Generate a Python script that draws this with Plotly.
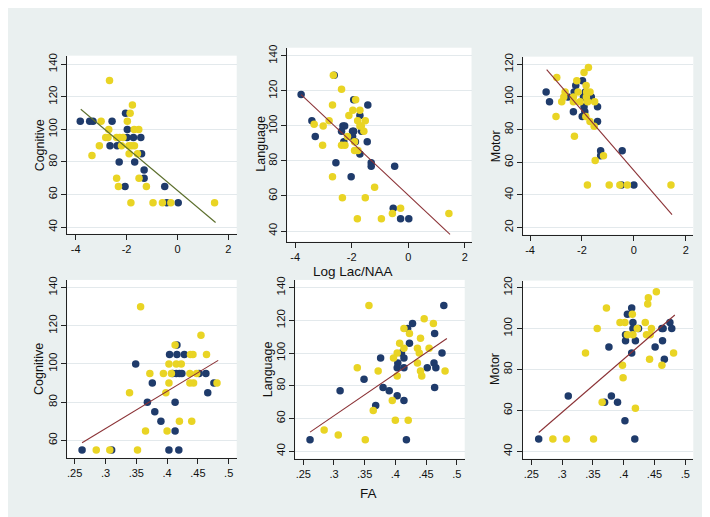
import plotly.graph_objects as go

# ---------------- data ----------------
# Panel 1: Cognitive vs Log Lac/NAA
p1_navy_x = [-3.82,-3.45,-3.32,-2.57,-2.65,-2.37,-2.29,-2.06,-2.04,-1.97,-1.98,-1.73,-1.44,-1.41,-1.68,-1.31,-1.31,-0.50,-0.42,0.03]
p1_navy_y = [105,105,105,105,90,90,80,65,110,100,95,95,95,85,80,75,70,65,55,55]
p1_gold_x = [-2.67,-1.77,-1.86,-1.97,-3.0,-2.70,-1.70,-1.52,-2.82,-2.73,-2.39,-2.27,-2.14,-3.07,-2.20,-1.91,-1.81,-1.69,-3.36,-1.90,-1.57,-2.39,-1.51,-2.32,-1.22,-1.83,-0.96,-0.59,-0.26,1.46]
p1_gold_y = [130,115,110,105,105,100,100,100,95,95,95,95,95,90,90,90,90,90,84,85,85,70,70,65,65,55,55,55,55,55]
p1_fit_x = [-3.80, 1.50]
p1_fit_y = [112.4, 42.8]

# Panel 2: Language vs Log Lac/NAA
p2_navy_x = [-3.79,-3.41,-3.29,-2.62,-2.56,-2.31,-2.25,-2.36,-2.28,-2.02,-1.97,-1.93,-1.93,-1.97,-1.87,-1.71,-1.65,-1.71,-1.43,-1.45,-1.31,-1.31,-0.48,-0.53,-0.27,0.02]
p2_navy_y = [118,103,94,129,79,100,100,97,91,71,97,97,115,94,91,106,97,84,112,91,79,77,77,53,47,47]
p2_gold_x = [-2.65,-2.36,-2.68,-1.86,-1.96,-1.71,-2.10,-2.80,-1.79,-1.52,-3.33,-3.01,-1.71,-1.66,-1.57,-2.15,-3.03,-2.36,-2.24,-1.90,-1.90,-1.78,-2.68,-1.19,-2.33,-1.52,-1.80,-0.95,-0.56,-0.27,1.44]
p2_gold_y = [129,121,112,115,109,109,106,103,103,103,101,100,100,100,97,94,89,89,89,91,86,86,71,65,59,59,47,47,50,53,50]
p2_fit_x = [-3.79, 1.48]
p2_fit_y = [117.9, 38.1]

# Panel 3: Motor vs Log Lac/NAA
p3_navy_x = [-3.38,-3.25,-2.54,-2.33,-2.30,-2.24,-1.98,-1.94,-1.87,-1.92,-1.89,-1.99,-1.64,-1.40,-1.40,-1.28,-1.28,-0.45,-0.48,0.0]
p3_navy_y = [103,97,100,91,103,107,110,100,103,94,91,88,100,94,85,67,64,67,46,46]
p3_gold_x = [-1.75,-1.92,-2.97,-2.20,-1.84,-2.65,-2.15,-1.82,-1.69,-2.70,-2.33,-1.83,-2.78,-2.33,-2.07,-1.78,-1.51,-3.0,-1.85,-1.69,-1.53,-2.29,-1.17,-1.49,-1.79,-0.95,-0.54,-0.25,1.43]
p3_gold_y = [118,115,112,110,107,103,103,103,103,100,100,100,97,97,97,97,97,88,88,85,82,76,64,61,46,46,46,46,46]
p3_fit_x = [-3.36, 1.47]
p3_fit_y = [116.8, 27.9]

# Panel 4: Cognitive vs FA
p4_navy_x = [0.262,0.310,0.349,0.376,0.368,0.380,0.390,0.403,0.404,0.416,0.428,0.416,0.409,0.415,0.420,0.424,0.413,0.413,0.419,0.452,0.463,0.466,0.476]
p4_navy_y = [55,55,100,90,80,75,70,55,105,105,105,110,95,95,95,95,80,65,55,95,95,85,90]
p4_gold_x = [0.357,0.455,0.413,0.438,0.442,0.464,0.403,0.415,0.423,0.372,0.394,0.407,0.437,0.448,0.403,0.437,0.443,0.481,0.339,0.398,0.365,0.400,0.420,0.440,0.285,0.307,0.352]
p4_gold_y = [130,115,110,105,105,105,100,100,100,95,95,95,95,95,90,90,90,90,85,85,65,65,70,70,55,55,55]
p4_fit_x = [0.262, 0.483]
p4_fit_y = [58.8, 101.9]

# Panel 5: Language vs FA
p5_navy_x = [0.261,0.310,0.349,0.376,0.368,0.380,0.390,0.403,0.404,0.403,0.410,0.414,0.414,0.414,0.418,0.420,0.423,0.428,0.452,0.463,0.464,0.464,0.466,0.476,0.479]
p5_navy_y = [47,77,84,97,68,79,77,74,94,91,100,97,91,71,47,115,106,118,91,94,112,79,91,100,129]
p5_gold_x = [0.357,0.447,0.462,0.414,0.423,0.441,0.407,0.414,0.436,0.455,0.403,0.439,0.397,0.436,0.338,0.441,0.481,0.372,0.403,0.443,0.395,0.364,0.400,0.421,0.284,0.307,0.351]
p5_gold_y = [129,121,118,115,112,109,106,103,103,103,100,100,97,94,91,89,89,89,86,86,71,65,59,59,53,50,47]
p5_fit_x = [0.261, 0.484]
p5_fit_y = [51.7, 108.9]

# Panel 6: Motor vs FA
p6_navy_x = [0.262,0.310,0.376,0.380,0.369,0.390,0.402,0.403,0.403,0.406,0.413,0.415,0.415,0.424,0.419,0.413,0.418,0.451,0.462,0.464,0.463,0.466,0.475,0.478]
p6_navy_y = [46,67,91,67,64,64,55,94,97,107,110,103,100,100,94,88,46,91,100,100,94,85,103,100]
p6_gold_x = [0.453,0.440,0.439,0.372,0.414,0.394,0.402,0.435,0.357,0.422,0.445,0.406,0.415,0.437,0.443,0.338,0.481,0.442,0.398,0.462,0.399,0.365,0.419,0.285,0.307,0.351]
p6_gold_y = [118,115,112,110,107,103,103,103,100,100,100,97,97,97,97,88,88,85,82,82,76,64,61,46,46,46]
p6_fit_x = [0.262, 0.483]
p6_fit_y = [49.2, 106.6]

# tick values / labels
lac_ticks = [-4, -2, 0, 2]
lac_labels = ["-4", "-2", "0", "2"]
fa_ticks = [0.25, 0.3, 0.35, 0.4, 0.45, 0.5]
fa_labels = [".25", ".3", ".35", ".4", ".45", ".5"]
y_ticks_p1 = [40, 60, 80, 100, 120, 140]
y_ticks_p2 = [40, 60, 80, 100, 120, 140]
y_ticks_p3 = [20, 40, 60, 80, 100, 120]
y_ticks_p4 = [60, 80, 100, 120, 140]
y_ticks_p5 = [40, 60, 80, 100, 120, 140]
y_ticks_p6 = [40, 60, 80, 100, 120]
y_titles = ["Cognitive", "Language", "Motor", "Cognitive", "Language", "Motor"]
x_title_top = "Log Lac/NAA"
x_title_bottom = "FA"

# ---------------- styling ----------------
W, H = 710, 517
BG = "#eaf0f0"
NAVY = "#1f3b6b"
GOLD = "#e9d424"
FIT_GREEN = "#5c6f2c"
FIT_RED = "#8b3236"
FONT = "Liberation Sans, Arial, sans-serif"

# pixel boxes: (left, right, top, bottom), and axis ranges
panels = [
    dict(nx=p1_navy_x, ny=p1_navy_y, gx=p1_gold_x, gy=p1_gold_y, fx=p1_fit_x, fy=p1_fit_y,
         box=(59.3, 228.7, 44, 223.5), xr=[-4.33, 2.33], yr=[35.9, 145.3],
         xt=lac_ticks, xl=lac_labels, yt=y_ticks_p1, fc=FIT_GREEN, yt_pos=(31.7, 134.7)),
    dict(nx=p2_navy_x, ny=p2_navy_y, gx=p2_gold_x, gy=p2_gold_y, fx=p2_fit_x, fy=p2_fit_y,
         box=(279.3, 463.5, 36, 231.3), xr=[-4.28, 2.24], yr=[34.0, 144.7],
         xt=lac_ticks, xl=lac_labels, yt=y_ticks_p2, fc=FIT_RED, yt_pos=(252.7, 133)),
    dict(nx=p3_navy_x, ny=p3_navy_y, gx=p3_gold_x, gy=p3_gold_y, fx=p3_fit_x, fy=p3_fit_y,
         box=(515.3, 685.3, 45, 224.3), xr=[-4.26, 2.29], yr=[15.7, 124.7],
         xt=lac_ticks, xl=lac_labels, yt=y_ticks_p3, fc=FIT_RED, yt_pos=(488.3, 135)),
    dict(nx=p4_navy_x, ny=p4_navy_y, gx=p4_gold_x, gy=p4_gold_y, fx=p4_fit_x, fy=p4_fit_y,
         box=(59.3, 228.7, 270, 449.3), xr=[0.238, 0.513], yr=[50.9, 144.0],
         xt=fa_ticks, xl=fa_labels, yt=y_ticks_p4, fc=FIT_RED, yt_pos=(31.7, 360)),
    dict(nx=p5_navy_x, ny=p5_navy_y, gx=p5_gold_x, gy=p5_gold_y, fx=p5_fit_x, fy=p5_fit_y,
         box=(287.3, 456.7, 270, 450), xr=[0.237, 0.513], yr=[35.6, 144.7],
         xt=fa_ticks, xl=fa_labels, yt=y_ticks_p5, fc=FIT_RED, yt_pos=(260, 360)),
    dict(nx=p6_navy_x, ny=p6_navy_y, gx=p6_gold_x, gy=p6_gold_y, fx=p6_fit_x, fy=p6_fit_y,
         box=(514.7, 685.3, 270.7, 450), xr=[0.236, 0.513], yr=[36.5, 123.4],
         xt=fa_ticks, xl=fa_labels, yt=y_ticks_p6, fc=FIT_RED, yt_pos=(487.7, 360)),
]

fig = go.Figure()
layout = dict(
    width=W, height=H, margin=dict(l=0, r=0, t=0, b=0),
    paper_bgcolor=BG, plot_bgcolor="white", showlegend=False,
    font=dict(family=FONT, color="#111111", size=11),
)
annotations = []

for i, p in enumerate(panels, start=1):
    xa = "x" if i == 1 else f"x{i}"
    ya = "y" if i == 1 else f"y{i}"
    l, r, t, b = p["box"]
    fig.add_trace(go.Scatter(x=p["nx"], y=p["ny"], mode="markers", xaxis=xa, yaxis=ya,
                             marker=dict(color=NAVY, size=7.5, line=dict(width=0))))
    fig.add_trace(go.Scatter(x=p["gx"], y=p["gy"], mode="markers", xaxis=xa, yaxis=ya,
                             marker=dict(color=GOLD, size=7.5, line=dict(width=0))))
    fig.add_trace(go.Scatter(x=p["fx"], y=p["fy"], mode="lines", xaxis=xa, yaxis=ya,
                             line=dict(color=p["fc"], width=1.1)))
    xkey = "xaxis" if i == 1 else f"xaxis{i}"
    ykey = "yaxis" if i == 1 else f"yaxis{i}"
    layout[xkey] = dict(
        domain=[l / W, r / W], range=p["xr"], anchor=ya,
        tickmode="array", tickvals=p["xt"], ticktext=p["xl"],
        showgrid=False, zeroline=False, showline=True, linecolor="#222222", linewidth=1,
        ticks="outside", ticklen=5, tickcolor="#222222", tickwidth=1,
        tickfont=dict(size=11, family=FONT, color="#111111"),
    )
    layout[ykey] = dict(
        domain=[1 - b / H, 1 - t / H], range=p["yr"], anchor=xa,
        tickmode="array", tickvals=p["yt"], tickangle=-90,
        showgrid=True, gridcolor="#e3e9ec", gridwidth=1,
        zeroline=False, showline=True, linecolor="#222222", linewidth=1,
        ticks="outside", ticklen=5, tickcolor="#222222", tickwidth=1,
        tickfont=dict(size=11.5, family=FONT, color="#111111"),
    )
    annotations.append(dict(text=y_titles[i - 1], x=p["yt_pos"][0] / W, y=1 - p["yt_pos"][1] / H,
                            xref="paper", yref="paper", showarrow=False, textangle=-90,
                            font=dict(size=12.5, family=FONT, color="#111111"),
                            xanchor="center", yanchor="middle"))

annotations.append(dict(text=x_title_top, x=345.3 / W, y=1 - 261.5 / H, xref="paper", yref="paper",
                        showarrow=False, font=dict(size=13.5, family=FONT, color="#111111"),
                        xanchor="center", yanchor="middle"))
annotations.append(dict(text=x_title_bottom, x=360.7 / W, y=1 - 485 / H, xref="paper", yref="paper",
                        showarrow=False, font=dict(size=13.5, family=FONT, color="#111111"),
                        xanchor="center", yanchor="middle"))

layout["annotations"] = annotations
fig.update_layout(**layout)
fig.write_html("out.html")
